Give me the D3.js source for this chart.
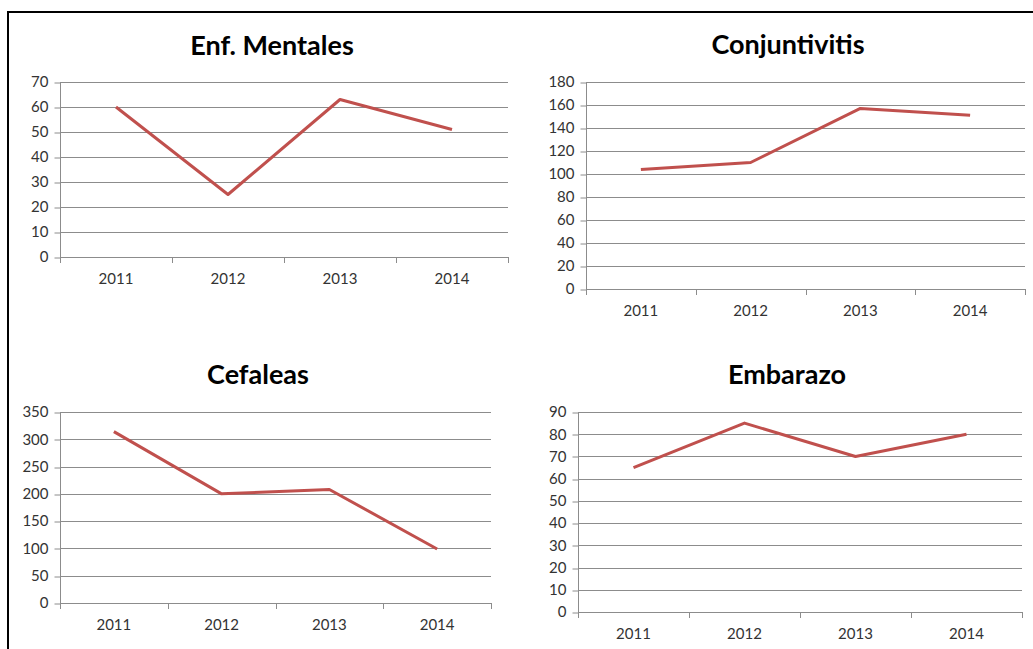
<!DOCTYPE html>
<html>
<head>
<meta charset="utf-8">
<script src="https://cdn.jsdelivr.net/npm/d3@7.9.0/dist/d3.min.js"></script>
<style>
  body { margin: 0; background: #fff; }
  svg { display: block; }
  .tick text { font-family: Lato, "Open Sans", sans-serif; font-size: 15px; fill: #333; }
  .title { font-family: Lato, "Open Sans", sans-serif; font-weight: bold; font-size: 27px; fill: #000; }
</style>
</head>
<body>
<svg id="chart" width="1033" height="649"></svg>
<script>
const years = ['2011', '2012', '2013', '2014'];

const mentales = [60, 25, 63, 51];
const conjuntivitis = [104, 110, 157, 151];
const cefaleas = [314, 200, 208, 99];
const embarazo = [65, 85, 70, 80];

const titles = ['Enf. Mentales', 'Conjuntivitis', 'Cefaleas', 'Embarazo'];
const maxima = [70, 180, 350, 90];
const steps = [10, 20, 50, 10];

// panel boxes (plot area)
const panels = [
  { values: mentales,      left: 60,  right: 508,  top: 82,  bottom: 257, titleX: 272, titleY: 55 },
  { values: conjuntivitis, left: 586, right: 1025, top: 82,  bottom: 289, titleX: 788, titleY: 54 },
  { values: cefaleas,      left: 60,  right: 491,  top: 412, bottom: 603, titleX: 258, titleY: 384 },
  { values: embarazo,      left: 578, right: 1022, top: 412, bottom: 612, titleX: 787, titleY: 384 }
];

const svg = d3.select('#chart');

// outer frame (only top and left edges show)
svg.append('line').attr('x1', 8).attr('x2', 1033).attr('y1', 12).attr('y2', 12)
  .attr('stroke', '#000').attr('stroke-width', 2);
svg.append('line').attr('x1', 8).attr('x2', 8).attr('y1', 11).attr('y2', 649)
  .attr('stroke', '#000').attr('stroke-width', 2);

panels.forEach((p, i) => {
  let x = d3.scaleBand().domain(years).range([p.left, p.right]);
  let y = d3.scaleLinear().domain([0, maxima[i]]).range([p.bottom, p.top]);
  let ticks = d3.range(0, maxima[i] + 1, steps[i]);

  let g = svg.append('g');

  // gridlines
  g.selectAll('line.grid').data(ticks).join('line')
    .attr('class', 'grid')
    .attr('x1', p.left).attr('x2', p.right)
    .attr('y1', d => Math.round(y(d)) + 0.5).attr('y2', d => Math.round(y(d)) + 0.5)
    .attr('stroke', '#8c8c8c').attr('stroke-width', 1);

  // y axis
  let yAxis = g.append('g')
    .attr('transform', `translate(${p.left + 0.5},0)`)
    .call(d3.axisLeft(y).tickValues(ticks).tickSize(6).tickPadding(6));
  yAxis.selectAll('line').attr('stroke', '#8c8c8c').attr('transform', (d) => `translate(0,${Math.round(y(d)) + 0.5 - y(d)})`);
  yAxis.select('.domain').attr('stroke', '#8c8c8c').attr('d', `M0,${p.top}V${p.bottom}`);

  // x axis
  let xAxis = g.append('g')
    .attr('transform', `translate(0,${Math.round(p.bottom) + 0.5})`)
    .call(d3.axisBottom(x).tickSize(0).tickPadding(16));
  xAxis.select('.domain').attr('stroke', '#8c8c8c').attr('d', `M${p.left},0H${p.right}`);
  // category separators
  g.selectAll('line.sep').data(d3.range(years.length + 1)).join('line')
    .attr('class', 'sep')
    .attr('x1', k => Math.round(p.left + k * x.step()) + 0.5)
    .attr('x2', k => Math.round(p.left + k * x.step()) + 0.5)
    .attr('y1', p.bottom).attr('y2', p.bottom + 6)
    .attr('stroke', '#8c8c8c');

  // line
  let line = d3.line()
    .x((d, k) => x(years[k]) + x.bandwidth() / 2)
    .y(d => y(d));
  g.append('path')
    .attr('d', line(p.values))
    .attr('fill', 'none')
    .attr('stroke', '#c0504d')
    .attr('stroke-width', 3)
    .attr('stroke-linejoin', 'round');

  // title
  g.append('text')
    .attr('class', 'title')
    .attr('x', p.titleX)
    .attr('y', p.titleY)
    .attr('text-anchor', 'middle')
    .text(titles[i]);
});
</script>
</body>
</html>
